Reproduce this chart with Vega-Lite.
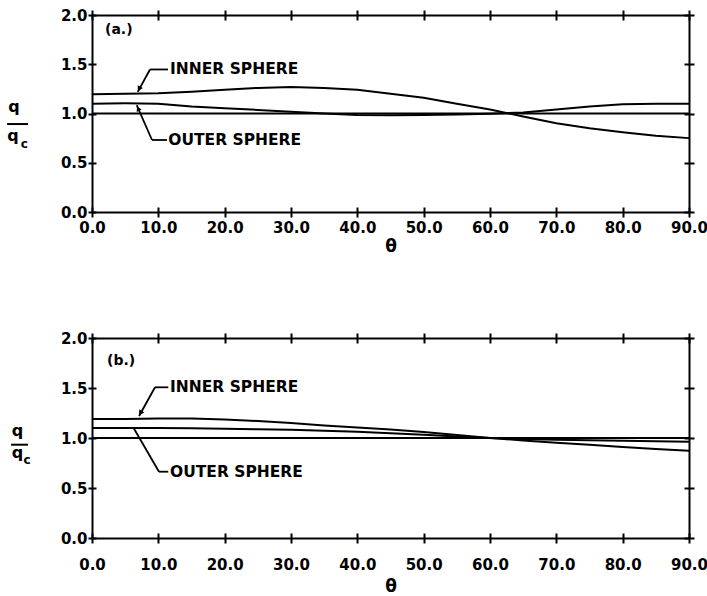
{
  "$schema": "https://vega.github.io/schema/vega-lite/v6.json",
  "background": "white",
  "padding": {"left": 6, "top": 8, "right": 0, "bottom": 0},
  "spacing": 77,
  "config": {
    "view": {"stroke": null},
    "font": "DejaVu Sans",
    "axis": {
      "grid": false,
      "labelFlush": false,
      "domainColor": "black",
      "domainWidth": 2,
      "tickColor": "black",
      "tickWidth": 2,
      "labelColor": "black",
      "labelFont": "DejaVu Sans",
      "labelFontWeight": "bold",
      "labelFontSize": 15,
      "titleColor": "black",
      "titleFont": "DejaVu Sans",
      "titleFontWeight": "bold",
      "titleFontSize": 17
    }
  },
  "vconcat": [
    {
      "width": 597,
      "height": 197,
      "layer": [
        {
          "data": {"values": [
            {"s": "ref", "t": 0, "q": 1.0}, {"s": "ref", "t": 90, "q": 1.0},
            {"s": "inner", "t": 0, "q": 1.195}, {"s": "inner", "t": 5, "q": 1.2}, {"s": "inner", "t": 10, "q": 1.205}, {"s": "inner", "t": 15, "q": 1.22}, {"s": "inner", "t": 20, "q": 1.24}, {"s": "inner", "t": 25, "q": 1.26}, {"s": "inner", "t": 30, "q": 1.27}, {"s": "inner", "t": 35, "q": 1.26}, {"s": "inner", "t": 40, "q": 1.24}, {"s": "inner", "t": 45, "q": 1.2}, {"s": "inner", "t": 50, "q": 1.16}, {"s": "inner", "t": 55, "q": 1.1}, {"s": "inner", "t": 60, "q": 1.04}, {"s": "inner", "t": 65, "q": 0.97}, {"s": "inner", "t": 70, "q": 0.9}, {"s": "inner", "t": 75, "q": 0.85}, {"s": "inner", "t": 80, "q": 0.81}, {"s": "inner", "t": 85, "q": 0.775}, {"s": "inner", "t": 90, "q": 0.75},
            {"s": "outer", "t": 0, "q": 1.1}, {"s": "outer", "t": 5, "q": 1.103}, {"s": "outer", "t": 10, "q": 1.1}, {"s": "outer", "t": 15, "q": 1.07}, {"s": "outer", "t": 20, "q": 1.053}, {"s": "outer", "t": 25, "q": 1.036}, {"s": "outer", "t": 30, "q": 1.018}, {"s": "outer", "t": 35, "q": 1.0}, {"s": "outer", "t": 40, "q": 0.985}, {"s": "outer", "t": 45, "q": 0.983}, {"s": "outer", "t": 50, "q": 0.985}, {"s": "outer", "t": 55, "q": 0.99}, {"s": "outer", "t": 60, "q": 0.997}, {"s": "outer", "t": 65, "q": 1.01}, {"s": "outer", "t": 70, "q": 1.04}, {"s": "outer", "t": 75, "q": 1.07}, {"s": "outer", "t": 80, "q": 1.093}, {"s": "outer", "t": 85, "q": 1.1}, {"s": "outer", "t": 90, "q": 1.1}
          ]},
          "mark": {"type": "line", "color": "black", "strokeWidth": 2},
          "encoding": {
            "x": {"field": "t", "type": "quantitative", "scale": {"domain": [0, 90], "nice": false},
                  "axis": {"orient": "bottom", "values": [0, 10, 20, 30, 40, 50, 60, 70, 80, 90], "format": ".1f", "tickSize": 5, "labelPadding": 3, "title": "θ", "titlePadding": 3}},
            "y": {"field": "q", "type": "quantitative", "scale": {"domain": [0, 2], "nice": false},
                  "axis": {"orient": "left", "values": [0, 0.5, 1, 1.5, 2], "format": ".1f", "tickSize": 4, "labelPadding": 1, "title": null}},
            "detail": {"field": "s"}
          }
        },
        {
          "data": {"values": [
            {"x": 11.46, "y": 1.447, "x2": 8.74, "y2": 1.447},
            {"x": 8.74, "y": 1.447, "x2": 6.9, "y2": 1.22},
            {"x": 11.3, "y": 0.731, "x2": 9.05, "y2": 0.731},
            {"x": 9.05, "y": 0.731, "x2": 6.74, "y2": 1.085}
          ]},
          "mark": {"type": "rule", "color": "black", "strokeWidth": 1.8},
          "encoding": {
            "x": {"field": "x", "type": "quantitative", "axis": {"orient": "bottom", "values": [0, 10, 20, 30, 40, 50, 60, 70, 80, 90], "tickSize": -5, "labels": false, "domain": false, "title": null}},
            "y": {"field": "y", "type": "quantitative", "axis": {"orient": "left", "values": [0, 0.5, 1, 1.5, 2], "tickSize": -4, "labels": false, "domain": false, "title": null}},
            "x2": {"field": "x2"},
            "y2": {"field": "y2"}
          }
        },
        {
          "data": {"values": [
            {"x": 11.76, "y": 1.447, "label": "INNER  SPHERE"},
            {"x": 11.5, "y": 0.731, "label": "OUTER  SPHERE"}
          ]},
          "mark": {"type": "text", "align": "left", "baseline": "middle", "fontSize": 15.5, "fontWeight": "bold", "font": "DejaVu Sans", "color": "black"},
          "encoding": {
            "x": {"field": "x", "type": "quantitative", "axis": {"orient": "top", "values": [0, 10, 20, 30, 40, 50, 60, 70, 80, 90], "tickSize": 5, "labels": false, "title": null}},
            "y": {"field": "y", "type": "quantitative", "axis": {"orient": "right", "values": [0, 0.5, 1, 1.5, 2], "tickSize": 5, "labels": false, "title": null}},
            "text": {"field": "label"}
          }
        },
        {
          "data": {"values": [{"x": 1.96, "y": 1.848, "label": "(a.)"}]},
          "mark": {"type": "text", "align": "left", "baseline": "middle", "fontSize": 14, "fontWeight": "bold", "font": "DejaVu Sans", "color": "black"},
          "encoding": {
            "x": {"field": "x", "type": "quantitative", "axis": {"orient": "top", "values": [0, 10, 20, 30, 40, 50, 60, 70, 80, 90], "tickSize": -5, "labels": false, "domain": false, "title": null}},
            "y": {"field": "y", "type": "quantitative", "axis": {"orient": "right", "values": [0, 0.5, 1, 1.5, 2], "tickSize": -5, "labels": false, "domain": false, "title": null}},
            "text": {"field": "label"}
          }
        },
        {
          "data": {"values": [
            {"x": -11.76, "y": 1.02, "label": "q", "size": "big"},
            {"x": -11.9, "y": 0.716, "label": "q", "size": "big"},
            {"x": -10.2, "y": 0.65, "label": "c", "size": "small"}
          ]},
          "mark": {"type": "text", "align": "center", "baseline": "alphabetic", "fontWeight": "bold", "font": "DejaVu Sans", "color": "black"},
          "encoding": {
            "x": {"field": "x", "type": "quantitative", "axis": null},
            "y": {"field": "y", "type": "quantitative", "axis": null},
            "text": {"field": "label"},
            "size": {"field": "size", "type": "nominal", "scale": {"domain": ["big", "small"], "range": [16, 12]}, "legend": null}
          }
        },
        {
          "data": {"values": [{"x": -12.8, "x2": -9.65, "y": 0.893}]},
          "mark": {"type": "rule", "color": "black", "strokeWidth": 2},
          "encoding": {
            "x": {"field": "x", "type": "quantitative", "axis": null},
            "x2": {"field": "x2"},
            "y": {"field": "y", "type": "quantitative", "axis": null}
          }
        },
        {
          "data": {"values": [{"x": 7.1, "y": 1.25}]},
          "mark": {"type": "point", "shape": "triangle-up", "filled": true, "color": "black", "size": 35, "angle": 208, "opacity": 1},
          "encoding": {
            "x": {"field": "x", "type": "quantitative", "axis": null},
            "y": {"field": "y", "type": "quantitative", "axis": null}
          }
        },
        {
          "data": {"values": [{"x": 6.95, "y": 1.05}]},
          "mark": {"type": "point", "shape": "triangle-up", "filled": true, "color": "black", "size": 30, "angle": 334, "opacity": 1},
          "encoding": {
            "x": {"field": "x", "type": "quantitative", "axis": null},
            "y": {"field": "y", "type": "quantitative", "axis": null}
          }
        }
      ],
      "resolve": {"axis": {"x": "independent", "y": "independent"}}
    },
    {
      "width": 597,
      "height": 200,
      "layer": [
        {
          "data": {"values": [
            {"s": "ref", "t": 0, "q": 1.0}, {"s": "ref", "t": 90, "q": 1.0},
            {"s": "inner", "t": 0, "q": 1.19}, {"s": "inner", "t": 5, "q": 1.19}, {"s": "inner", "t": 10, "q": 1.195}, {"s": "inner", "t": 15, "q": 1.195}, {"s": "inner", "t": 20, "q": 1.185}, {"s": "inner", "t": 25, "q": 1.17}, {"s": "inner", "t": 30, "q": 1.15}, {"s": "inner", "t": 35, "q": 1.125}, {"s": "inner", "t": 40, "q": 1.105}, {"s": "inner", "t": 45, "q": 1.085}, {"s": "inner", "t": 50, "q": 1.06}, {"s": "inner", "t": 55, "q": 1.03}, {"s": "inner", "t": 60, "q": 1.0}, {"s": "inner", "t": 65, "q": 0.975}, {"s": "inner", "t": 70, "q": 0.952}, {"s": "inner", "t": 75, "q": 0.932}, {"s": "inner", "t": 80, "q": 0.91}, {"s": "inner", "t": 85, "q": 0.89}, {"s": "inner", "t": 90, "q": 0.873},
            {"s": "outer", "t": 0, "q": 1.1}, {"s": "outer", "t": 5, "q": 1.1}, {"s": "outer", "t": 10, "q": 1.1}, {"s": "outer", "t": 15, "q": 1.097}, {"s": "outer", "t": 20, "q": 1.093}, {"s": "outer", "t": 25, "q": 1.088}, {"s": "outer", "t": 30, "q": 1.083}, {"s": "outer", "t": 35, "q": 1.073}, {"s": "outer", "t": 40, "q": 1.062}, {"s": "outer", "t": 45, "q": 1.048}, {"s": "outer", "t": 50, "q": 1.033}, {"s": "outer", "t": 55, "q": 1.016}, {"s": "outer", "t": 60, "q": 1.0}, {"s": "outer", "t": 65, "q": 0.99}, {"s": "outer", "t": 70, "q": 0.982}, {"s": "outer", "t": 75, "q": 0.977}, {"s": "outer", "t": 80, "q": 0.972}, {"s": "outer", "t": 85, "q": 0.968}, {"s": "outer", "t": 90, "q": 0.963}
          ]},
          "mark": {"type": "line", "color": "black", "strokeWidth": 2},
          "encoding": {
            "x": {"field": "t", "type": "quantitative", "scale": {"domain": [0, 90], "nice": false},
                  "axis": {"orient": "bottom", "values": [0, 10, 20, 30, 40, 50, 60, 70, 80, 90], "format": ".1f", "tickSize": 5, "labelPadding": 14, "title": "θ", "titlePadding": 6}},
            "y": {"field": "q", "type": "quantitative", "scale": {"domain": [0, 2], "nice": false},
                  "axis": {"orient": "left", "values": [0, 0.5, 1, 1.5, 2], "format": ".1f", "tickSize": 4, "labelPadding": 1, "title": null}},
            "detail": {"field": "s"}
          }
        },
        {
          "data": {"values": [
            {"x": 11.5, "y": 1.507, "x2": 9.5, "y2": 1.507},
            {"x": 9.5, "y": 1.507, "x2": 7.1, "y2": 1.22},
            {"x": 11.5, "y": 0.663, "x2": 10.1, "y2": 0.663},
            {"x": 10.1, "y": 0.663, "x2": 6.23, "y2": 1.105}
          ]},
          "mark": {"type": "rule", "color": "black", "strokeWidth": 1.8},
          "encoding": {
            "x": {"field": "x", "type": "quantitative", "axis": {"orient": "bottom", "values": [0, 10, 20, 30, 40, 50, 60, 70, 80, 90], "tickSize": -5, "labels": false, "domain": false, "title": null}},
            "y": {"field": "y", "type": "quantitative", "axis": {"orient": "left", "values": [0, 0.5, 1, 1.5, 2], "tickSize": -4, "labels": false, "domain": false, "title": null}},
            "x2": {"field": "x2"},
            "y2": {"field": "y2"}
          }
        },
        {
          "data": {"values": [
            {"x": 11.76, "y": 1.507, "label": "INNER  SPHERE"},
            {"x": 11.76, "y": 0.663, "label": "OUTER  SPHERE"}
          ]},
          "mark": {"type": "text", "align": "left", "baseline": "middle", "fontSize": 15.5, "fontWeight": "bold", "font": "DejaVu Sans", "color": "black"},
          "encoding": {
            "x": {"field": "x", "type": "quantitative", "axis": {"orient": "top", "values": [0, 10, 20, 30, 40, 50, 60, 70, 80, 90], "tickSize": 5, "labels": false, "title": null}},
            "y": {"field": "y", "type": "quantitative", "axis": {"orient": "right", "values": [0, 0.5, 1, 1.5, 2], "tickSize": 5, "labels": false, "title": null}},
            "text": {"field": "label"}
          }
        },
        {
          "data": {"values": [{"x": 2.26, "y": 1.773, "label": "(b.)"}]},
          "mark": {"type": "text", "align": "left", "baseline": "middle", "fontSize": 14, "fontWeight": "bold", "font": "DejaVu Sans", "color": "black"},
          "encoding": {
            "x": {"field": "x", "type": "quantitative", "axis": {"orient": "top", "values": [0, 10, 20, 30, 40, 50, 60, 70, 80, 90], "tickSize": -5, "labels": false, "domain": false, "title": null}},
            "y": {"field": "y", "type": "quantitative", "axis": {"orient": "right", "values": [0, 0.5, 1, 1.5, 2], "tickSize": -5, "labels": false, "domain": false, "title": null}},
            "text": {"field": "label"}
          }
        },
        {
          "data": {"values": [
            {"x": -11.23, "y": 1.02, "label": "q", "size": "big"},
            {"x": -11.23, "y": 0.8, "label": "q", "size": "big"},
            {"x": -9.8, "y": 0.745, "label": "c", "size": "small"}
          ]},
          "mark": {"type": "text", "align": "center", "baseline": "alphabetic", "fontWeight": "bold", "font": "DejaVu Sans", "color": "black"},
          "encoding": {
            "x": {"field": "x", "type": "quantitative", "axis": null},
            "y": {"field": "y", "type": "quantitative", "axis": null},
            "text": {"field": "label"},
            "size": {"field": "size", "type": "nominal", "scale": {"domain": ["big", "small"], "range": [16, 12]}, "legend": null}
          }
        },
        {
          "data": {"values": [{"x": -12.2, "x2": -9.65, "y": 0.933}]},
          "mark": {"type": "rule", "color": "black", "strokeWidth": 2},
          "encoding": {
            "x": {"field": "x", "type": "quantitative", "axis": null},
            "x2": {"field": "x2"},
            "y": {"field": "y", "type": "quantitative", "axis": null}
          }
        },
        {
          "data": {"values": [{"x": 7.3, "y": 1.25}]},
          "mark": {"type": "point", "shape": "triangle-up", "filled": true, "color": "black", "size": 35, "angle": 212, "opacity": 1},
          "encoding": {
            "x": {"field": "x", "type": "quantitative", "axis": null},
            "y": {"field": "y", "type": "quantitative", "axis": null}
          }
        }
      ],
      "resolve": {"axis": {"x": "independent", "y": "independent"}}
    }
  ]
}
